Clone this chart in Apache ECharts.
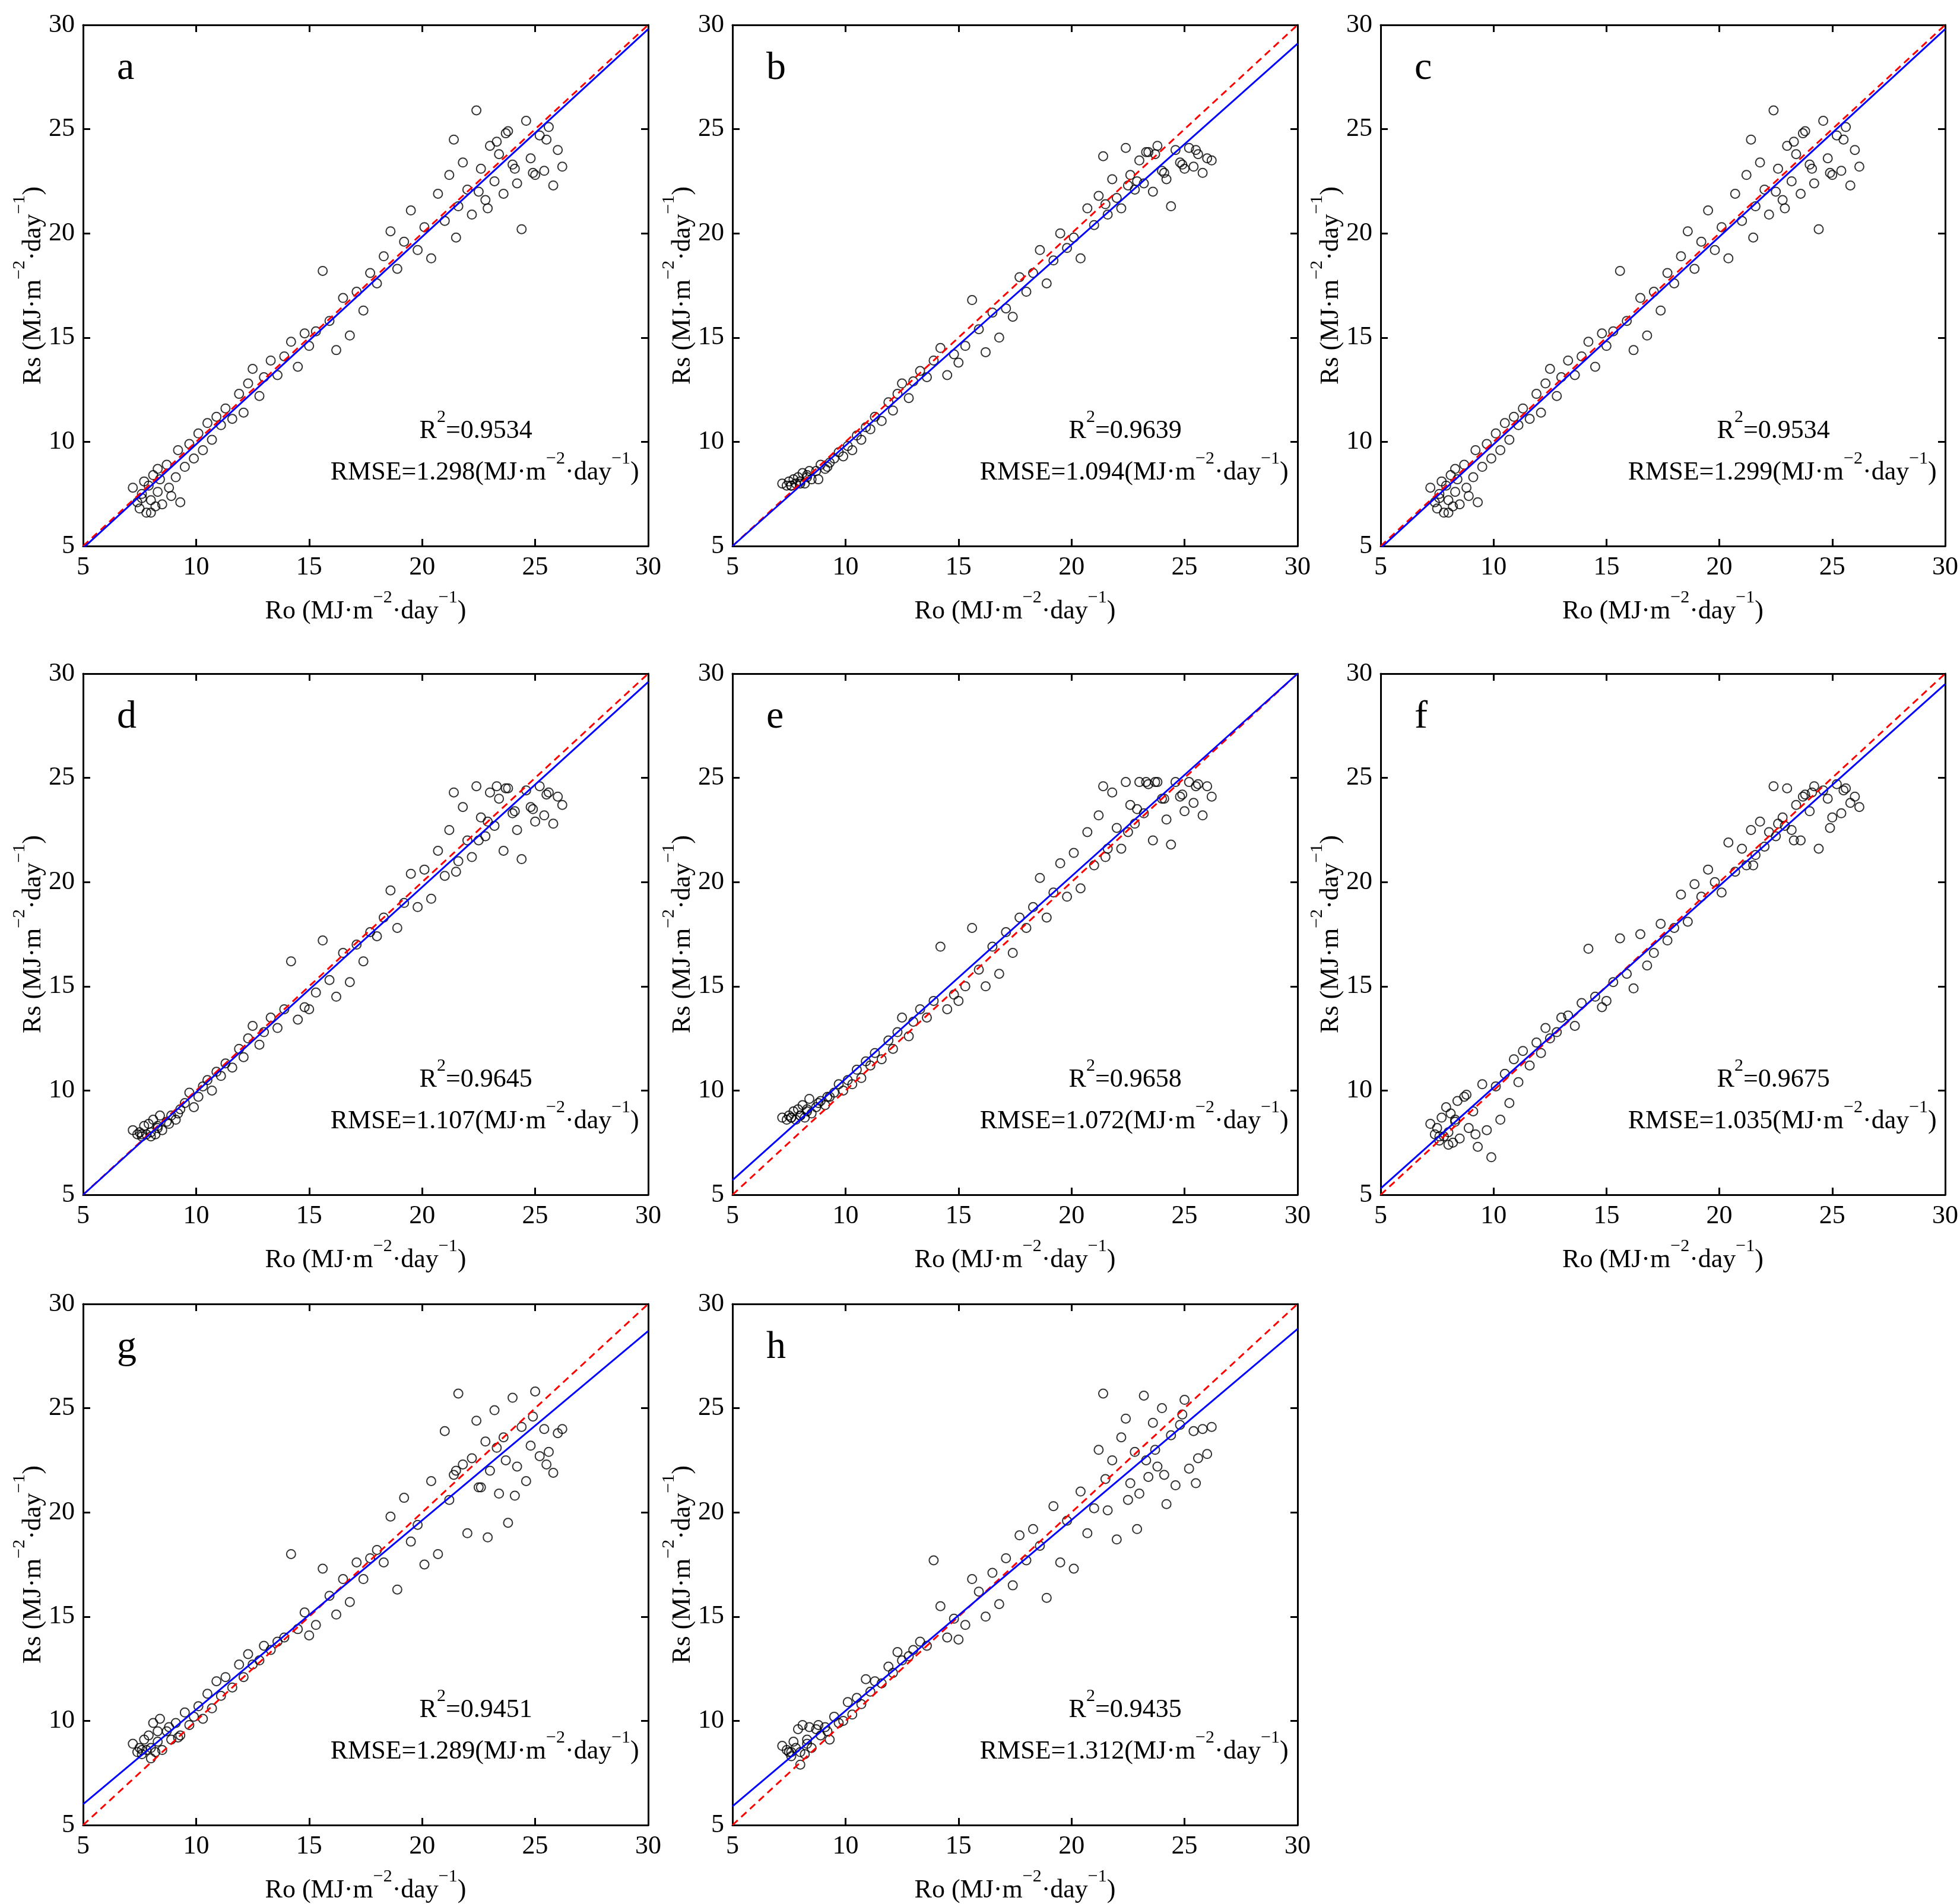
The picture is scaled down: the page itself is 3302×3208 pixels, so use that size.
<!DOCTYPE html>
<html><head><meta charset="utf-8">
<script src="https://cdn.jsdelivr.net/npm/echarts@6/dist/echarts.min.js"></script>
<style>html,body{margin:0;padding:0;background:#fff}#c{width:3302px;height:3208px}</style>
</head><body><div id="c"></div>
<script>
const panels=['a','b','c','d','e','f','g','h'];
const ro=[7.2,7.4,7.5,7.6,7.7,7.8,7.9,8.0,8.1,8.2,8.3,8.4,8.5,8.7,8.9,9.1,9.3,9.5,9.7,9.9,10.1,10.3,10.5,10.7,10.9,11.1,11.3,11.6,11.9,12.1,12.3,12.5,12.8,13.0,13.3,13.6,13.9,14.2,14.5,14.8,15.0,15.3,15.6,15.9,16.2,16.5,16.8,17.1,17.4,17.7,18.0,18.3,18.6,18.9,19.2,19.5,19.8,20.1,20.4,20.7,21.0,21.2,21.4,21.6,21.8,22.0,22.2,22.4,22.6,22.8,23.0,23.2,23.4,23.6,23.8,24.0,24.2,24.4,24.6,24.8,25.0,25.2,25.4,25.6,25.8,26.0,26.2,7.6,8.0,8.3,8.8,9.2,22.5,23.3,24.1,24.9,21.5,22.9,23.7,25.5];
const rsA=[7.8,7.1,6.8,7.5,8.1,6.6,7.9,7.2,8.4,6.9,7.6,8.2,7.0,8.9,7.4,8.3,7.1,8.8,9.9,9.2,10.4,9.6,10.9,10.1,11.2,10.8,11.6,11.1,12.3,11.4,12.8,13.5,12.2,13.1,13.9,13.2,14.1,14.8,13.6,15.2,14.6,15.3,18.2,15.8,14.4,16.9,15.1,17.2,16.3,18.1,17.6,18.9,20.1,18.3,19.6,21.1,19.2,20.3,18.8,21.9,20.6,22.8,24.5,21.3,23.4,22.1,20.9,25.9,23.1,21.6,24.2,22.5,23.8,21.9,24.9,23.3,22.4,20.2,25.4,23.6,22.8,24.7,23.0,25.1,22.3,24.0,23.2,7.3,6.6,8.7,7.8,9.6,22.0,24.4,23.1,22.9,19.8,21.2,24.8,24.5];
const rsB=[8.0,7.9,8.1,7.9,8.2,8.0,8.3,8.1,8.5,8.0,8.4,8.6,8.2,8.6,8.9,8.7,9.0,9.2,9.5,9.3,9.8,9.6,10.3,10.1,10.7,10.6,11.2,11.0,11.9,11.5,12.3,12.8,12.1,12.9,13.4,13.1,13.9,14.5,13.2,14.2,13.8,14.6,16.8,15.4,14.3,16.2,15.0,16.4,16.0,17.9,17.2,18.1,19.2,17.6,18.7,20.0,19.3,19.8,18.8,21.2,20.4,21.8,23.7,20.9,22.6,21.7,21.2,24.1,22.8,22.1,23.5,22.4,23.9,22.0,24.2,23.0,22.6,21.3,24.0,23.4,23.1,24.1,23.2,23.8,22.9,23.6,23.5,7.9,8.0,8.3,8.2,8.8,22.3,23.9,22.9,23.3,21.4,22.5,23.8,24.0];
const rsC=rsA.slice();
const rsD=[8.1,7.9,8.0,7.8,8.3,7.9,8.4,8.0,8.6,7.9,8.2,8.8,8.1,8.5,8.8,8.6,9.1,9.4,9.9,9.2,9.7,10.2,10.5,10.0,10.9,10.7,11.3,11.1,12.0,11.6,12.5,13.1,12.2,12.8,13.5,13.0,13.9,16.2,13.4,14.0,13.9,14.7,17.2,15.3,14.5,16.6,15.2,17.0,16.2,17.6,17.4,18.3,19.6,17.8,19.0,20.4,18.8,20.6,19.2,21.5,20.3,22.5,24.3,21.0,23.6,22.0,21.2,24.6,23.1,22.2,24.3,22.7,24.0,21.5,24.5,23.3,22.5,21.1,24.4,23.6,22.9,24.6,23.2,24.3,22.8,24.1,23.7,7.9,7.8,8.3,8.4,8.9,22.0,24.6,23.4,23.5,20.5,22.9,24.5,24.2];
const rsE=[8.7,8.6,8.8,8.7,9.0,8.6,9.1,8.8,9.3,8.7,9.0,9.6,8.9,9.2,9.5,9.3,9.7,9.9,10.3,10.0,10.5,10.3,11.0,10.6,11.4,11.2,11.8,11.5,12.4,12.0,12.8,13.5,12.6,13.3,13.9,13.5,14.3,16.9,13.9,14.6,14.3,15.0,17.8,15.8,15.0,16.9,15.6,17.6,16.6,18.3,17.8,18.8,20.2,18.3,19.5,20.9,19.3,21.4,19.7,22.4,20.8,23.2,24.6,21.6,24.3,22.6,21.6,24.8,23.7,22.8,24.8,23.3,24.7,22.0,24.8,24.0,23.0,21.8,24.8,24.1,23.4,24.8,23.8,24.7,23.2,24.6,24.1,8.7,8.8,9.1,9.4,9.7,22.4,24.8,24.0,24.2,21.2,23.5,24.8,24.6];
const rsF=[8.4,7.9,8.2,7.6,8.7,7.8,9.2,8.0,8.9,7.5,8.5,9.5,7.7,9.7,8.2,9.0,7.3,10.3,8.1,6.8,10.2,8.6,10.8,9.4,11.5,10.4,11.9,11.2,12.3,11.8,13.0,12.5,12.8,13.5,13.6,13.1,14.2,16.8,14.5,14.0,14.3,15.2,17.3,15.6,14.9,17.5,16.0,16.6,18.0,17.2,17.8,19.4,18.1,19.9,19.3,20.6,20.0,19.5,21.9,20.5,21.6,20.8,22.5,21.3,22.9,21.7,22.4,24.6,22.8,23.1,24.5,22.5,23.7,22.0,24.2,23.4,24.6,21.6,24.4,24.0,23.1,24.7,23.3,24.5,23.8,24.1,23.6,7.8,7.4,8.6,9.8,7.9,22.2,22.0,24.3,22.6,20.8,22.7,24.1,24.4];
const rsG=[8.9,8.5,8.7,8.4,9.1,8.6,9.3,8.7,9.9,8.5,9.0,10.1,8.6,9.5,9.1,9.9,9.3,10.4,9.8,10.2,10.7,10.1,11.3,10.6,11.9,11.2,12.1,11.6,12.7,12.1,13.2,12.7,12.9,13.6,13.4,13.8,14.0,18.0,14.4,15.2,14.1,14.6,17.3,16.0,15.1,16.8,15.7,17.6,16.8,17.8,18.2,17.6,19.8,16.3,20.7,18.6,19.4,17.5,21.5,18.0,23.9,20.6,21.8,25.7,22.3,19.0,22.6,24.4,21.2,23.4,22.0,24.9,20.9,23.6,19.5,25.5,22.2,24.1,21.5,23.2,25.8,22.7,24.0,22.9,21.9,23.8,24.0,8.6,8.2,9.5,9.7,9.2,21.2,23.1,20.8,24.6,22.0,18.8,22.5,22.3];
const rsH=[8.8,8.6,8.5,8.3,9.0,8.7,9.6,8.5,9.8,8.4,8.9,9.7,8.7,9.6,9.3,9.7,9.1,10.2,9.9,10.0,10.9,10.3,11.1,10.8,12.0,11.4,11.9,11.8,12.6,12.3,13.3,12.9,13.1,13.4,13.8,13.6,17.7,15.5,14.0,14.9,13.9,14.6,16.8,16.2,15.0,17.1,15.6,17.8,16.5,18.9,17.7,19.2,18.4,15.9,20.3,17.6,19.6,17.3,21.0,19.0,20.2,23.0,25.7,20.1,22.5,18.7,23.6,24.5,21.4,22.9,20.9,25.6,21.7,24.3,22.2,25.0,20.4,23.7,21.3,24.2,25.4,22.1,23.9,22.6,24.0,22.8,24.1,8.5,7.9,9.1,9.8,9.5,20.6,22.5,21.8,24.7,21.6,19.2,23.0,21.4];
const rsAll=[rsA,rsB,rsC,rsD,rsE,rsF,rsG,rsH];
const fitAt5=[4.9,5.0,4.9,5.0,5.7,5.3,6.0,5.9];
const fitAt30=[29.8,29.1,29.8,29.6,30.0,29.5,28.7,28.8];
const r2=['0.9534','0.9639','0.9534','0.9645','0.9658','0.9675','0.9451','0.9435'];
const rmse=['1.298','1.094','1.299','1.107','1.072','1.035','1.289','1.312'];

const FONT='Liberation Serif';
const colL=[140,1234,2326], rowT=[42,1135,2197], W=952, H=878;
const FS=44;
const rich={n:{fontFamily:FONT,fontSize:FS,color:'#000',verticalAlign:'bottom',lineHeight:60},
  s:{fontFamily:FONT,fontSize:30,color:'#000',verticalAlign:'top',lineHeight:60,padding:[0,0,28,0]}};
const unitName=v=>'{n|'+v+' (MJ·m}{s|−2}{n|·day}{s|−1}{n|)}';
const grids=[],xAxes=[],yAxes=[],series=[],graphics=[];
panels.forEach((p,i)=>{
  const L=colL[i%3], T=rowT[Math.floor(i/3)];
  grids.push({left:L,top:T,width:W,height:H,containLabel:false});
  const base={min:5,max:30,interval:5,gridIndex:i,splitLine:{show:false},
    axisLine:{show:true,onZero:false,lineStyle:{color:'#000',width:3}},
    axisTick:{show:true,inside:true,length:12,lineStyle:{color:'#000',width:3}}};
  const lab={color:'#000',fontFamily:FONT,fontSize:FS,margin:14};
  xAxes.push(Object.assign({},base,{type:'value',position:'bottom',axisLabel:lab,
    name:unitName('Ro'),nameLocation:'middle',nameGap:72,nameTextStyle:{rich:rich}}));
  xAxes.push(Object.assign({},base,{type:'value',position:'top',axisLabel:{show:false}}));
  yAxes.push(Object.assign({},base,{type:'value',position:'left',axisLabel:lab,
    name:unitName('Rs'),nameLocation:'middle',nameGap:62,nameTextStyle:{rich:rich}}));
  yAxes.push(Object.assign({},base,{type:'value',position:'right',axisLabel:{show:false}}));
  series.push({type:'scatter',xAxisIndex:2*i,yAxisIndex:2*i,symbol:'circle',symbolSize:15,
    itemStyle:{color:'rgba(0,0,0,0)',borderColor:'#000',borderWidth:2},
    data:ro.map((x,k)=>[x,rsAll[i][k]]),silent:true,z:2});
  series.push({type:'line',xAxisIndex:2*i,yAxisIndex:2*i,symbol:'none',
    lineStyle:{color:'#ff0000',width:3,type:[12,8]},data:[[5,5],[30,30]],silent:true,z:3});
  series.push({type:'line',xAxisIndex:2*i,yAxisIndex:2*i,symbol:'none',
    lineStyle:{color:'#0000ff',width:3},data:[[5,fitAt5[i]],[30,fitAt30[i]]],silent:true,z:4});
  graphics.push({type:'text',x:L+W*0.06,y:T+H*0.084,style:{text:p,font:'66px "'+FONT+'"',fill:'#000',textVerticalAlign:'middle'}});
  graphics.push({type:'text',x:L+W*0.695,y:T+H*0.77,style:{text:'{n|R}{s|2}{n|='+r2[i]+'}',rich:rich,textAlign:'center',textVerticalAlign:'middle'}});
  graphics.push({type:'text',x:L+W*0.984,y:T+H*0.85,style:{text:'{n|RMSE='+rmse[i]+'(MJ·m}{s|−2}{n|·day}{s|−1}{n|)}',rich:rich,textAlign:'right',textVerticalAlign:'middle'}});
});
const chart=echarts.init(document.getElementById('c'));
chart.setOption({animation:false,backgroundColor:'#fff',grid:grids,xAxis:xAxes,yAxis:yAxes,series:series,graphic:graphics});
</script></body></html>
